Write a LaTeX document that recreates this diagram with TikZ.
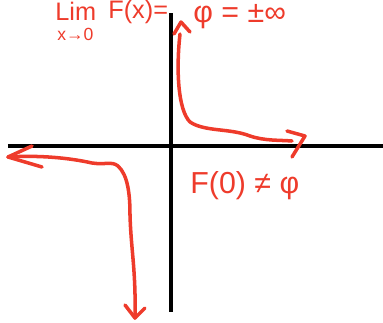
\documentclass[tikz,border=0pt]{standalone}
\usepackage{amsmath,amssymb}
\usepackage{fontspec}
\setmainfont{Liberation Sans}
\usepackage{tikz}
\usetikzlibrary{calc}
\definecolor{inkred}{HTML}{EE3B2B}

\tikzset{
  axis/.style={line width=2.4pt, black},
  stroke/.style={line width=2pt, inkred, line cap=round, line join=round},
  note/.style={text=inkred, font=\Large, inner sep=0pt}
}

\begin{document}
\begin{tikzpicture}[x=0.02cm, y=-0.02cm]
  \useasboundingbox (0,0) rectangle (383,322);

  % axes
  \coordinate (xl) at (8,146);
  \coordinate (xr) at (383,146);
  \coordinate (yt) at (171,13);
  \coordinate (yb) at (171,312);
  \draw[axis] (xl) -- (xr);
  \draw[axis] (yt) -- (yb);

  % branch right of zero
  \coordinate (up) at (181,22);
  \coordinate (rt) at (305,136);
  \draw[stroke] (180,34) .. controls (176,70) and (178,110) .. (190,122)
    .. controls (205,132) and (230,128) .. (250,136)
    .. controls (265,141) and (280,140) .. (292,141);
  \draw[stroke] (174,34) -- (up) -- (190,32);
  \draw[stroke] (287,131) -- (rt) -- (292,157);

  % branch left of zero
  \coordinate (lt) at (8,157);
  \coordinate (dn) at (135,318);
  \draw[stroke] (lt) .. controls (40,155) and (70,158) .. (92,163)
    .. controls (105,165) and (112,161) .. (118,166)
    .. controls (128,175) and (130,195) .. (130,215)
    .. controls (131,250) and (136,270) .. (135,318);
  \draw[stroke] (32,146) -- (lt) -- (42,167);
  \draw[stroke] (125,305) -- (dn) -- (145,308);

  % labels
  \node[note, anchor=west] (lim) at (55,11) {Lim};
  \node[note, anchor=west, font=\normalsize] (lower) at (57,34) {x→0};
  \node[note, anchor=west] (fx) at (108,12) {F(x)=};
  \node[note, anchor=west, font=\LARGE] (val) at (193,17) {φ = ±∞};
  \node[note, anchor=west, font=\LARGE] (fz) at (190,186) {F(0) ≠ φ};
\end{tikzpicture}
\end{document}
